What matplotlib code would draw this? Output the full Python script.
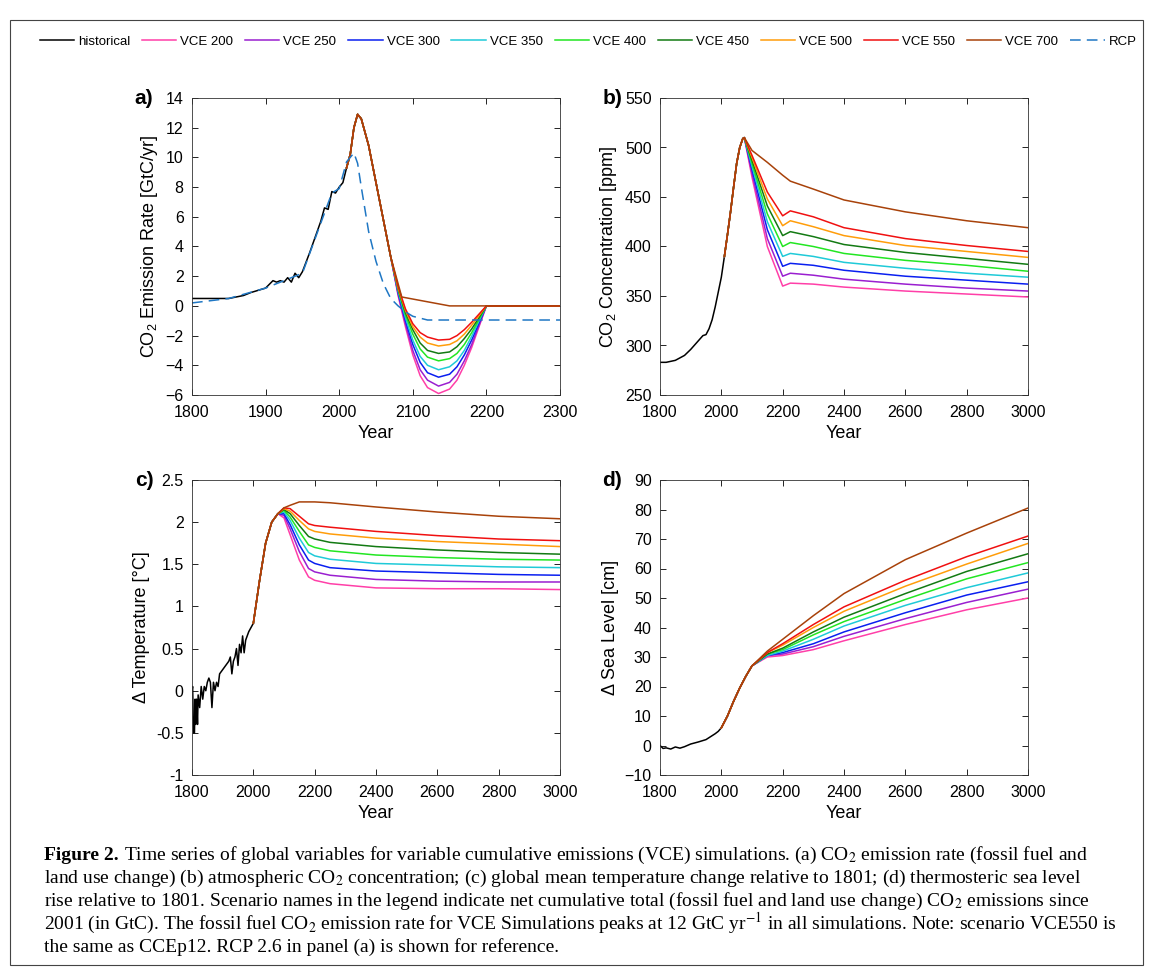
import numpy as np
import matplotlib.pyplot as plt
from matplotlib.patches import Rectangle

plt.rcParams['font.family'] = ['Liberation Sans', 'DejaVu Sans']
plt.rcParams['mathtext.fontset'] = 'custom'
plt.rcParams['mathtext.rm'] = 'Liberation Sans'

names = ['VCE 200', 'VCE 250', 'VCE 300', 'VCE 350', 'VCE 400', 'VCE 450', 'VCE 500', 'VCE 550', 'VCE 700']
colors = ['#ff3fa8', '#9a1fd0', '#0a1ff0', '#1fcad8', '#22e622', '#137a13', '#ff9d0a', '#f01010', '#a8420a']

# ---- panel a: emission rate
hist_a_yr = [1800, 1850, 1860, 1870, 1880, 1890, 1900, 1910, 1915, 1920, 1925, 1930, 1935, 1940, 1945, 1950,
             1960, 1970, 1975, 1980, 1985, 1990, 1995, 2000, 2005, 2010]
hist_a = [0.5, 0.5, 0.6, 0.7, 0.9, 1.05, 1.2, 1.7, 1.6, 1.7, 1.6, 1.9, 1.6, 2.2, 1.9, 2.3,
          3.6, 5.0, 5.7, 6.6, 6.5, 7.7, 7.6, 8.0, 8.3, 9.3]
rcp_yr = [1800, 1850, 1900, 1950, 1970, 1990, 2000, 2010, 2020, 2025, 2030, 2040, 2050, 2060, 2070, 2080,
          2090, 2100, 2120, 2300]
rcp = [0.2, 0.5, 1.2, 2.2, 4.9, 7.6, 7.9, 9.7, 10.3, 9.6, 8.0, 5.0, 3.0, 1.5, 0.5, 0.0,
       -0.4, -0.7, -0.95, -0.95]
common_a_yr = [2010, 2015, 2020, 2025, 2030, 2040, 2050, 2060, 2070]
common_a = [9.3, 10.2, 12.0, 12.9, 12.6, 10.8, 8.3, 5.8, 3.3]
tail_a_yr = [2080, 2090, 2100, 2110, 2120, 2135, 2150, 2160, 2170, 2180, 2190, 2200, 2300]
tail_a = [
    [0.7, -1.4, -3.3, -4.7, -5.5, -5.9, -5.6, -5.0, -4.0, -2.8, -1.4, 0, 0],
    [0.8, -1.2, -3.0, -4.3, -5.0, -5.4, -5.15, -4.6, -3.7, -2.6, -1.3, 0, 0],
    [0.9, -1.0, -2.6, -3.8, -4.5, -4.8, -4.6, -4.1, -3.3, -2.3, -1.15, 0, 0],
    [1.0, -0.8, -2.3, -3.4, -4.0, -4.3, -4.1, -3.7, -3.0, -2.05, -1.0, 0, 0],
    [1.1, -0.6, -1.9, -2.9, -3.45, -3.7, -3.55, -3.2, -2.6, -1.8, -0.9, 0, 0],
    [1.15, -0.45, -1.6, -2.5, -3.0, -3.2, -3.1, -2.75, -2.2, -1.55, -0.78, 0, 0],
    [1.2, -0.3, -1.4, -2.1, -2.5, -2.7, -2.6, -2.35, -1.9, -1.3, -0.65, 0, 0],
    [1.3, -0.2, -1.2, -1.8, -2.1, -2.3, -2.25, -2.0, -1.6, -1.1, -0.55, 0, 0],
]
vce700_a_yr = [2080, 2085, 2150, 2300]
vce700_a = [1.5, 0.6, 0.0, 0.0]

# ---- panel b: CO2 concentration
hist_b_yr = [1800, 1820, 1850, 1880, 1900, 1920, 1940, 1950, 1960, 1970, 1980, 1990, 2000, 2010]
hist_b = [283, 283, 285, 290, 296, 303, 310, 311, 317, 326, 339, 354, 369, 390]
common_b_yr = [2010, 2020, 2030, 2040, 2050, 2060, 2070, 2075]
common_b = [390, 412, 435, 460, 484, 500, 509, 510]
tail_b_yr = [2100, 2150, 2200, 2225, 2300, 2400, 2600, 2800, 3000]
tail_b = [
    [470, 400, 360, 363, 362, 359, 355, 352, 349],
    [474, 408, 370, 373, 371, 367, 362, 358, 355],
    [478, 417, 380, 383, 381, 376, 370, 366, 362],
    [481, 425, 390, 393, 390, 384, 378, 373, 369],
    [484, 433, 400, 404, 400, 393, 386, 381, 375],
    [487, 441, 411, 415, 410, 402, 394, 388, 382],
    [490, 448, 421, 426, 420, 411, 401, 395, 389],
    [492, 455, 431, 436, 430, 419, 408, 401, 395],
    [497, 485, 472, 466, 458, 447, 435, 426, 419],
]

# ---- panel c: temperature
hist_c_yr = [1800, 1802, 1805, 1808, 1810, 1812, 1815, 1818, 1820, 1825, 1830, 1835, 1840, 1845, 1850, 1855,
             1860, 1865, 1870, 1875, 1880, 1885, 1890, 1900, 1910, 1920, 1925, 1930, 1935, 1940, 1945, 1950,
             1955, 1960, 1965, 1970, 1975, 1985, 2000]
hist_c = [0.0, 0.05, -0.5, -0.5, -0.1, -0.4, -0.1, -0.4, -0.05, -0.2, 0.05, -0.1, 0.05, 0.0, 0.1, 0.15,
          0.1, -0.2, 0.1, 0.0, 0.1, 0.05, 0.2, 0.25, 0.3, 0.35, 0.4, 0.2, 0.35, 0.4, 0.5, 0.3,
          0.55, 0.45, 0.65, 0.45, 0.6, 0.7, 0.8]
common_c_yr = [2000, 2020, 2040, 2060, 2080]
common_c = [0.8, 1.3, 1.75, 2.0, 2.1]
tail_c_yr = [2100, 2120, 2150, 2180, 2200, 2250, 2400, 2600, 2800, 3000]
tail_c = [
    [2.05, 1.85, 1.55, 1.35, 1.31, 1.27, 1.22, 1.21, 1.21, 1.2],
    [2.08, 1.92, 1.65, 1.45, 1.41, 1.37, 1.32, 1.30, 1.29, 1.29],
    [2.10, 1.97, 1.73, 1.55, 1.51, 1.46, 1.42, 1.40, 1.38, 1.37],
    [2.12, 2.02, 1.81, 1.64, 1.60, 1.56, 1.51, 1.49, 1.47, 1.46],
    [2.14, 2.06, 1.89, 1.73, 1.70, 1.66, 1.61, 1.58, 1.56, 1.55],
    [2.15, 2.10, 1.96, 1.83, 1.80, 1.76, 1.71, 1.67, 1.64, 1.62],
    [2.16, 2.13, 2.02, 1.92, 1.89, 1.86, 1.81, 1.77, 1.74, 1.71],
    [2.17, 2.16, 2.07, 1.98, 1.96, 1.94, 1.89, 1.84, 1.80, 1.78],
    [2.17, 2.20, 2.24, 2.24, 2.24, 2.23, 2.18, 2.12, 2.07, 2.04],
]

# ---- panel d: sea level
hist_d_yr = [1800, 1810, 1820, 1835, 1850, 1865, 1880, 1900, 1925, 1950, 1965, 1980, 1990, 2000]
hist_d = [0.0, -1.0, -0.8, -1.2, -0.5, -0.9, -0.4, 0.5, 1.2, 2.0, 3.0, 4.0, 4.8, 6.0]
common_d_yr = [2000, 2020, 2040, 2060, 2080, 2100]
common_d = [6.0, 10.0, 15.0, 19.5, 23.5, 27.0]
tail_d_yr = [2150, 2200, 2300, 2400, 2600, 2800, 3000]
tail_d = [
    [30, 30.5, 32.5, 35.5, 41, 46, 50],
    [30.5, 31, 33.5, 37, 43, 48.5, 53],
    [30.5, 31.5, 34.5, 38.5, 45, 51, 55.5],
    [30.5, 32, 36, 40.5, 47.5, 53.5, 58.5],
    [31, 32.5, 37.5, 42, 49.5, 56.5, 62],
    [31, 33, 38.5, 43.5, 51.5, 59, 65],
    [31.5, 34, 40, 45.5, 54, 61.5, 68.5],
    [31.5, 34.5, 41, 47, 56, 64, 71],
    [32, 36, 44, 51.5, 63, 72, 80.5],
]

fig = plt.figure(figsize=(11.53, 9.76), dpi=100)
fig.patches.append(Rectangle((0.009, 0.011), 0.982, 0.968, transform=fig.transFigure,
                             fill=False, lw=0.8, ec='#444444'))

W, H = 1153, 976
def add_ax(l, r, t, b):
    return fig.add_axes([l / W, 1 - b / H, (r - l) / W, (b - t) / H])

axa = add_ax(192, 560, 98, 395)
axb = add_ax(660, 1028, 98, 395)
axc = add_ax(192, 560, 480, 775)
axd = add_ax(660, 1028, 480, 775)

lw = 1.1
axa.plot(hist_a_yr, hist_a, color='k', lw=lw, label='historical')
for i in range(8):
    axa.plot(common_a_yr + tail_a_yr, common_a + tail_a[i], color=colors[i], lw=lw, label=names[i])
axa.plot(common_a_yr + vce700_a_yr, common_a + vce700_a, color=colors[8], lw=lw, label=names[8])
axa.plot(rcp_yr, rcp, color='#1f77c4', lw=lw, ls=(0, (7, 4)), label='RCP')
axa.set_xlim(1800, 2300)
axa.set_ylim(-6, 14)
axa.set_yticks(range(-6, 15, 2))
axa.set_ylabel(r'CO$_2$ Emission Rate [GtC/yr]', fontsize=13)

axb.plot(hist_b_yr, hist_b, color='k', lw=lw)
for i in range(9):
    axb.plot(common_b_yr + tail_b_yr, common_b + tail_b[i], color=colors[i], lw=lw)
axb.set_xlim(1800, 3000)
axb.set_ylim(250, 550)
axb.set_ylabel(r'CO$_2$ Concentration [ppm]', fontsize=13)

axc.plot(hist_c_yr, hist_c, color='k', lw=lw)
for i in range(9):
    axc.plot(common_c_yr + tail_c_yr, common_c + tail_c[i], color=colors[i], lw=lw)
axc.set_xlim(1800, 3000)
axc.set_ylim(-1, 2.5)
axc.set_yticks([-1, -0.5, 0, 0.5, 1, 1.5, 2, 2.5])
axc.set_yticklabels(['-1', '-0.5', '0', '0.5', '1', '1.5', '2', '2.5'])
axc.set_ylabel('Δ Temperature [°C]', fontsize=13)

axd.plot(hist_d_yr, hist_d, color='k', lw=lw)
for i in range(9):
    axd.plot(common_d_yr + tail_d_yr, common_d + tail_d[i], color=colors[i], lw=lw)
axd.set_xlim(1800, 3000)
axd.set_ylim(-10, 90)
axd.set_yticks(range(-10, 91, 10))
axd.set_ylabel('Δ Sea Level [cm]', fontsize=13)

for ax, lab in zip([axa, axb, axc, axd], ['a)', 'b)', 'c)', 'd)']):
    ax.set_xlabel('Year', fontsize=13, labelpad=4)
    ax.tick_params(direction='in', top=True, right=True, labelsize=11.5, length=4, width=0.6)
    ax.tick_params(axis='x', pad=7)
    ax.tick_params(axis='y', pad=6)
    for s in ax.spines.values():
        s.set_linewidth(0.6)
        s.set_color('#333333')
    ax.text(-0.13, 1.0, lab, transform=ax.transAxes, fontsize=15, fontweight='bold', ha='center', va='center')
for ax in [axb, axc, axd]:
    ax.set_xticks(range(1800, 3001, 200))

h, l = axa.get_legend_handles_labels()
fig.legend(h, l, loc='center', bbox_to_anchor=(0.51, 1 - 42 / H), ncol=11, frameon=False,
           fontsize=9.5, handlelength=2.6, columnspacing=0.9, handletextpad=0.3)

cap_lines = [
    r'Time series of global variables for variable cumulative emissions (VCE) simulations. (a) CO$_2$ emission rate (fossil fuel and',
    r'land use change) (b) atmospheric CO$_2$ concentration; (c) global mean temperature change relative to 1801; (d) thermosteric sea level',
    r'rise relative to 1801. Scenario names in the legend indicate net cumulative total (fossil fuel and land use change) CO$_2$ emissions since',
    r'2001 (in GtC). The fossil fuel CO$_2$ emission rate for VCE Simulations peaks at 12 GtC yr$^{-1}$ in all simulations. Note: scenario VCE550 is',
    r'the same as CCEp12. RCP 2.6 in panel (a) is shown for reference.',
]
sf = dict(family=['Liberation Serif', 'DejaVu Serif'], fontsize=14, va='baseline', math_fontfamily='stix')
fig.text(44 / W, 1 - 860 / H, 'Figure 2.', fontweight='bold', **sf)
fig.text(124 / W, 1 - 860 / H, cap_lines[0], **sf)
for k, line in enumerate(cap_lines[1:]):
    fig.text(44 / W, 1 - (883 + 23 * k) / H, line, **sf)

fig.savefig('out.png', dpi=100)
